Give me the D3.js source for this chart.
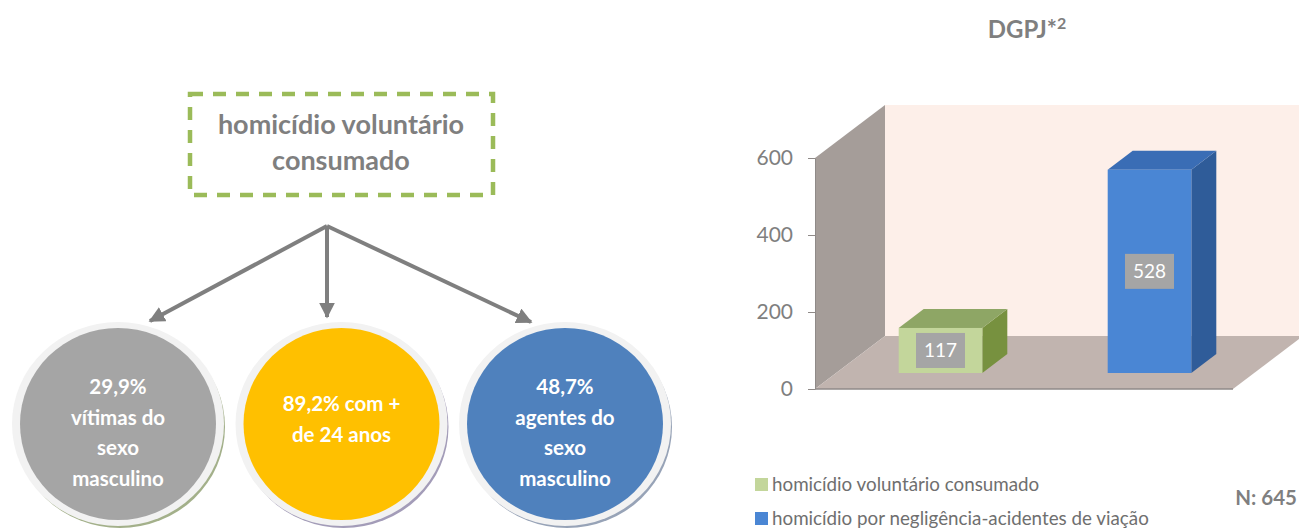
<!DOCTYPE html>
<html>
<head>
<meta charset="utf-8">
<script src="https://cdn.jsdelivr.net/npm/d3@7"></script>
<style>
  body { margin: 0; background: #fff; }
  svg { display: block; font-family: Lato, "Open Sans", sans-serif; }
</style>
</head>
<body>
<script>
'use strict';

// bar chart data
const categories = ["homicídio voluntário consumado", "homicídio por negligência-acidentes de viação"];
const values = [117, 528];
const yTicks = [0, 200, 400, 600];
const barFront = ["#c3d69b", "#4a86d4"];
const barTop = ["#8ea665", "#3a6db5"];
const barSide = ["#77913f", "#2f5c99"];
const chartTitle = "DGPJ*";
const totalLabel = "N: 645";

// left diagram data
const boxLines = ["homicídio voluntário", "consumado"];
const circleLines = [
  ["29,9%", "vítimas do", "sexo", "masculino"],
  ["89,2% com +", "de 24 anos"],
  ["48,7%", "agentes do", "sexo", "masculino"]
];
const circleFill = ["#a5a5a5", "#ffc000", "#4f81bd"];
const circleShadow = ["#a3b08a", "#a39cb8", "#97a3b7"];

const svg = d3.select('body').append('svg')
  .attr('width', 1299)
  .attr('height', 530);

const grey = "#7f7f7f";

// ---------- left diagram ----------
function drawDiagram() {
  svg.append('rect')
    .attr('x', 190).attr('y', 94)
    .attr('width', 303).attr('height', 101)
    .attr('fill', 'none')
    .attr('stroke', '#9bbb59')
    .attr('stroke-width', 4.5)
    .attr('stroke-dasharray', '13 10');

  svg.selectAll('.boxText')
    .data(boxLines).enter()
    .append('text')
      .attr('x', 341)
      .attr('y', (d, i) => 134 + i * 36)
      .attr('text-anchor', 'middle')
      .attr('font-size', 27)
      .attr('font-weight', 'bold')
      .attr('fill', grey)
      .text(d => d);

  let cx = d3.scalePoint().domain(d3.range(circleLines.length)).range([118, 565]);
  let cy = 424;
  let apex = [327, 226];

  svg.append('defs').append('marker')
    .attr('id', 'head')
    .attr('viewBox', '0 0 10 10')
    .attr('refX', 9).attr('refY', 5)
    .attr('markerWidth', 4).attr('markerHeight', 4)
    .attr('markerUnits', 'strokeWidth')
    .attr('orient', 'auto')
    .append('path')
      .attr('d', 'M0,0 L10,5 L0,10 Z')
      .attr('fill', grey);

  let tips = [[150, 321], [327, 317], [531, 322]];
  svg.selectAll('.arrow')
    .data(tips).enter()
    .append('line')
      .attr('x1', apex[0]).attr('y1', apex[1])
      .attr('x2', d => d[0]).attr('y2', d => d[1])
      .attr('stroke', grey)
      .attr('stroke-width', 4)
      .attr('marker-end', 'url(#head)');

  let g = svg.selectAll('.circ')
    .data(circleLines).enter()
    .append('g')
      .attr('transform', (d, i) => `translate(${cx(i)}, ${cy})`);

  g.append('ellipse')
    .attr('cx', 2).attr('cy', 3)
    .attr('rx', 105).attr('ry', 101)
    .attr('fill', (d, i) => circleShadow[i]);
  g.append('ellipse')
    .attr('rx', 106).attr('ry', 102)
    .attr('fill', '#f2f2f2');
  g.append('ellipse')
    .attr('rx', 98).attr('ry', 96)
    .attr('fill', (d, i) => circleFill[i]);

  g.each(function(lines) {
    let first = lines.length > 2 ? -30 : -13;
    d3.select(this).selectAll('text')
      .data(lines).enter()
      .append('text')
        .attr('x', 0)
        .attr('y', (d, j) => first + j * 30.5)
        .attr('text-anchor', 'middle')
        .attr('font-size', 20.5)
        .attr('font-weight', 'bold')
        .attr('fill', '#fff')
        .text(d => d);
  });
}

// ---------- 3d bar chart ----------
function drawBars() {
  let depth = { dx: 70, dy: -53 };
  let y = d3.scaleLinear().domain([0, 600]).range([389, 158]);
  let x = d3.scaleBand().domain(categories).range([815, 1233])
    .paddingInner(0.6).paddingOuter(0.3);

  let x0 = x.range()[0], x1 = x.range()[1];
  let top = y(600), base = y(0);
  let pts = p => p.map(q => q.join(',')).join(' ');

  // back wall
  svg.append('polygon')
    .attr('points', pts([[x0 + depth.dx, top + depth.dy], [x1 + depth.dx, top + depth.dy],
      [x1 + depth.dx, base + depth.dy], [x0 + depth.dx, base + depth.dy]]))
    .attr('fill', '#fdefe9');
  // left wall
  svg.append('polygon')
    .attr('points', pts([[x0, top], [x0 + depth.dx, top + depth.dy],
      [x0 + depth.dx, base + depth.dy], [x0, base]]))
    .attr('fill', '#a59d99');
  // floor
  svg.append('polygon')
    .attr('points', pts([[x0, base], [x0 + depth.dx, base + depth.dy],
      [x1 + depth.dx, base + depth.dy], [x1, base]]))
    .attr('fill', '#c1b4af');
  svg.append('line')
    .attr('x1', x0).attr('x2', x1)
    .attr('y1', base).attr('y2', base)
    .attr('stroke', '#8f8a88').attr('stroke-width', 1.5);

  // bars sit a bit into the depth
  let off = { dx: 21, dy: -16 };
  let bd = { dx: 25, dy: -19 };

  let bars = svg.selectAll('.bar')
    .data(categories).enter()
    .append('g');

  bars.append('polygon')
    .attr('points', (d, i) => {
      let l = x(d) + off.dx + x.bandwidth(), t = y(values[i]) + off.dy, b = base + off.dy;
      return pts([[l, t], [l + bd.dx, t + bd.dy], [l + bd.dx, b + bd.dy], [l, b]]);
    })
    .attr('fill', (d, i) => barSide[i]);
  bars.append('polygon')
    .attr('points', (d, i) => {
      let l = x(d) + off.dx, r = l + x.bandwidth(), t = y(values[i]) + off.dy;
      return pts([[l, t], [l + bd.dx, t + bd.dy], [r + bd.dx, t + bd.dy], [r, t]]);
    })
    .attr('fill', (d, i) => barTop[i]);
  bars.append('rect')
    .attr('x', d => x(d) + off.dx)
    .attr('y', (d, i) => y(values[i]) + off.dy)
    .attr('width', x.bandwidth())
    .attr('height', (d, i) => base - y(values[i]))
    .attr('fill', (d, i) => barFront[i]);

  // value labels
  bars.append('rect')
    .attr('x', d => x(d) + off.dx + x.bandwidth() / 2 - 24.5)
    .attr('y', (d, i) => (y(values[i]) + base) / 2 + off.dy - 17.5)
    .attr('width', 49).attr('height', 35)
    .attr('fill', '#a5a5a5');
  bars.append('text')
    .attr('x', d => x(d) + off.dx + x.bandwidth() / 2)
    .attr('y', (d, i) => (y(values[i]) + base) / 2 + off.dy + 7)
    .attr('text-anchor', 'middle')
    .attr('font-size', 19)
    .attr('fill', '#fff')
    .text((d, i) => values[i]);

  // axis
  let yAxis = d3.axisLeft(y).tickValues(yTicks).tickSizeInner(7).tickSizeOuter(0).tickPadding(15);
  let ax = svg.append('g')
    .attr('transform', `translate(${x0}, 0)`)
    .call(yAxis);
  ax.select('.domain').attr('stroke', '#8f8a88');
  ax.selectAll('.tick line').attr('stroke', '#8f8a88');
  ax.selectAll('.tick text')
    .attr('font-family', 'Lato, "Open Sans", sans-serif')
    .attr('font-size', 21)
    .attr('fill', grey);

  // title
  let t = svg.append('text')
    .attr('x', 1027).attr('y', 38)
    .attr('text-anchor', 'middle')
    .attr('font-size', 24)
    .attr('font-weight', 'bold')
    .attr('fill', grey)
    .text(chartTitle);
  t.append('tspan')
    .attr('dy', -9)
    .attr('font-size', 16)
    .text('2');

  // legend
  let leg = svg.selectAll('.leg')
    .data(categories).enter()
    .append('g')
      .attr('transform', (d, i) => `translate(755, ${478 + i * 34})`);
  leg.append('rect')
    .attr('width', 13).attr('height', 13)
    .attr('fill', (d, i) => barFront[i]);
  leg.append('text')
    .attr('x', 17).attr('y', 13)
    .attr('font-size', 18.8)
    .attr('fill', '#6f6f6f')
    .text(d => d);

  svg.append('text')
    .attr('x', 1297).attr('y', 505)
    .attr('text-anchor', 'end')
    .attr('font-size', 20.5)
    .attr('font-weight', 'bold')
    .attr('fill', grey)
    .text(totalLabel);
}

drawDiagram();
drawBars();
</script>
</body>
</html>
